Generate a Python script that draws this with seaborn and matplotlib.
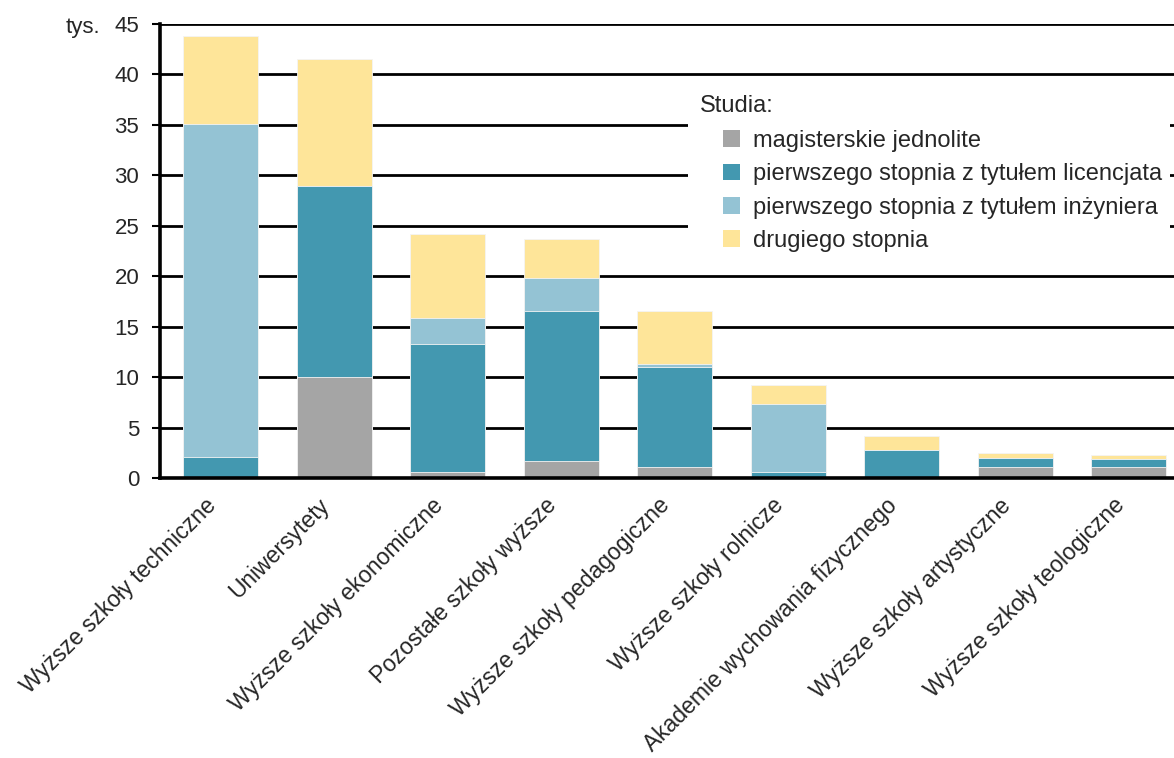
import numpy as np
import matplotlib
matplotlib.use('Agg')
import matplotlib.pyplot as plt
from matplotlib.patches import Patch, Rectangle
import seaborn as sns

# Dane (tys.)
uczelnie = ['Wyższe szkoły techniczne', 'Uniwersytety', 'Wyższe szkoły ekonomiczne',
            'Pozostałe szkoły wyższe', 'Wyższe szkoły pedagogiczne', 'Wyższe szkoły rolnicze',
            'Akademie wychowania fizycznego', 'Wyższe szkoły artystyczne', 'Wyższe szkoły teologiczne']
magisterskie = [0.0, 10.0, 0.6, 1.7, 1.1, 0.0, 0.0, 1.1, 1.1]
licencjat = [2.1, 18.9, 12.7, 14.9, 9.9, 0.6, 2.8, 0.85, 0.75]
inzynier = [33.0, 0.0, 2.6, 3.2, 0.3, 6.75, 0.0, 0.05, 0.0]
drugiego = [8.7, 12.6, 8.3, 3.9, 5.25, 1.85, 1.4, 0.45, 0.45]

serie = ['magisterskie jednolite', 'pierwszego stopnia z tytułem licencjata',
         'pierwszego stopnia z tytułem inżyniera', 'drugiego stopnia']
kolory = ['#A5A5A5', '#4398B0', '#94C3D4', '#FEE599']
y_ticks = [0, 5, 10, 15, 20, 25, 30, 35, 40, 45]

sns.set_style('white')
plt.rcParams['font.family'] = ['Liberation Sans', 'DejaVu Sans']

fig = plt.figure(figsize=(11.74, 7.58), dpi=100)
W, H = 1174, 758
ax = fig.add_axes([160 / W, 1 - 478 / H, 1025.5 / W, 454 / H])

# skumulowane wartości, rysowane od góry do dołu
warstwy = np.array([magisterskie, licencjat, inzynier, drugiego])
skum = np.cumsum(warstwy, axis=0)
for i in range(len(serie) - 1, -1, -1):
    sns.barplot(x=uczelnie, y=skum[i], color=kolory[i], saturation=1, width=0.66,
                edgecolor='#F4F4F4', linewidth=0.6, ax=ax, zorder=2)

ax.set_xlim(-0.535, 8.5)
ax.set_ylim(0, 45)
ax.set_yticks(y_ticks)
ax.set_yticklabels([str(v) for v in y_ticks], fontsize=16)
ax.yaxis.grid(True, color='black', linewidth=2.0, zorder=0)
ax.set_axisbelow(True)
for s in ['top', 'right']:
    ax.spines[s].set_visible(False)
ax.spines['left'].set_linewidth(2.6)
ax.spines['bottom'].set_linewidth(2.6)
ax.spines['left'].set_color('black')
ax.spines['bottom'].set_color('black')
ax.tick_params(axis='y', which='major', left=True, length=6, width=1.5, pad=9, color='black')
ax.tick_params(axis='x', bottom=False, pad=8)
plt.setp(ax.get_xticklabels(), rotation=45, ha='right', va='top', fontsize=16.5)
ax.set_xlabel('')
ax.set_ylabel('')

fig.text(100 / W, 1 - 27 / H, 'tys.', ha='right', va='center', fontsize=16)

# tło legendy
fig.patches.append(Rectangle((688 / W, 1 - 264 / H), (1170 - 688) / W, (264 - 84) / H,
                             transform=fig.transFigure, facecolor='white', edgecolor='none',
                             zorder=3))
fig.text(700 / W, 1 - 106 / H, 'Studia:', ha='left', va='center', fontsize=17, zorder=5)
uchwyty = [Patch(facecolor=c, edgecolor='none', label=s) for s, c in zip(serie, kolory)]
leg = fig.legend(handles=uchwyty, loc='upper left', bbox_to_anchor=(723 / W, 1 - 130 / H),
                 frameon=False, fontsize=17, handlelength=0.7, handleheight=0.7,
                 handletextpad=0.55, labelspacing=0.48, borderpad=0, borderaxespad=0)
leg.set_zorder(5)

fig.savefig('out.png', dpi=100)
